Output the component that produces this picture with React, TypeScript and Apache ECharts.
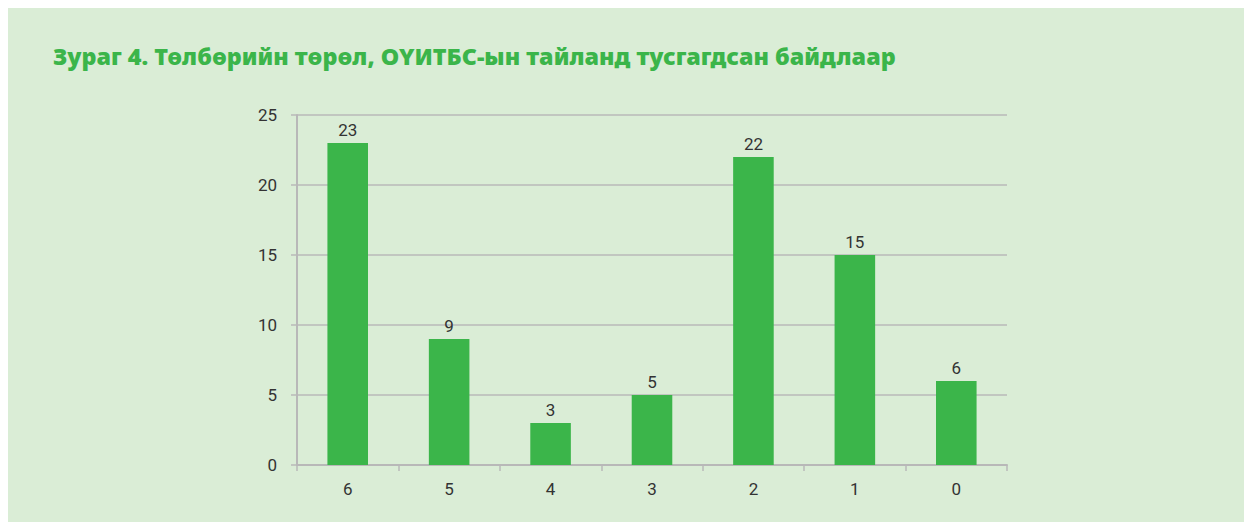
import React, { useEffect, useRef } from "react";
import * as echarts from "echarts";

const titleText = "Зураг 4. Төлбөрийн төрөл, ОҮИТБС-ын тайланд тусгагдсан байдлаар";
const categories = ["6", "5", "4", "3", "2", "1", "0"];
const values = [23, 9, 3, 5, 22, 15, 6];

export default function App() {
  const ref = useRef<HTMLDivElement>(null);
  useEffect(() => {
    document.body.style.overflow = "hidden";
    const chart = echarts.init(ref.current!, null, { renderer: "svg" });
    const axisColor = "#b8b8b8";
    const labelColor = "#333333";
    chart.setOption({
      animation: false,
      backgroundColor: "#daedd6",
      title: {
        text: titleText,
        left: 40,
        top: 31,
        textStyle: {
          color: "#3bb54a",
          fontFamily: "Noto Sans",
          fontWeight: 900,
          fontSize: 23.4,
        },
      },
      grid: { left: 289, right: 245, top: 107, bottom: 57 },
      xAxis: {
        type: "category",
        data: categories,
        axisLine: { lineStyle: { color: axisColor, width: 2 } },
        axisTick: { show: true, length: 6, lineStyle: { color: axisColor, width: 1.5 } },
        axisLabel: { color: labelColor, fontSize: 17, margin: 15, fontFamily: "Roboto" },
      },
      yAxis: {
        type: "value",
        min: 0,
        max: 25,
        interval: 5,
        axisLine: { show: true, lineStyle: { color: axisColor, width: 2 } },
        axisTick: { show: true, length: 6, lineStyle: { color: axisColor, width: 1.5 } },
        axisLabel: { color: labelColor, fontSize: 17, margin: 20, fontFamily: "Roboto" },
        splitLine: { lineStyle: { color: axisColor, width: 1.5 } },
      },
      series: [
        {
          type: "bar",
          data: values,
          barWidth: "40%",
          itemStyle: { color: "#3bb54a" },
          label: {
            show: true,
            position: "top",
            distance: 5,
            color: labelColor,
            fontSize: 17,
            fontFamily: "Roboto",
          },
        },
      ],
    });
    return () => chart.dispose();
  }, []);
  return <div ref={ref} style={{ width: 1244, height: 514 }} />;
}
